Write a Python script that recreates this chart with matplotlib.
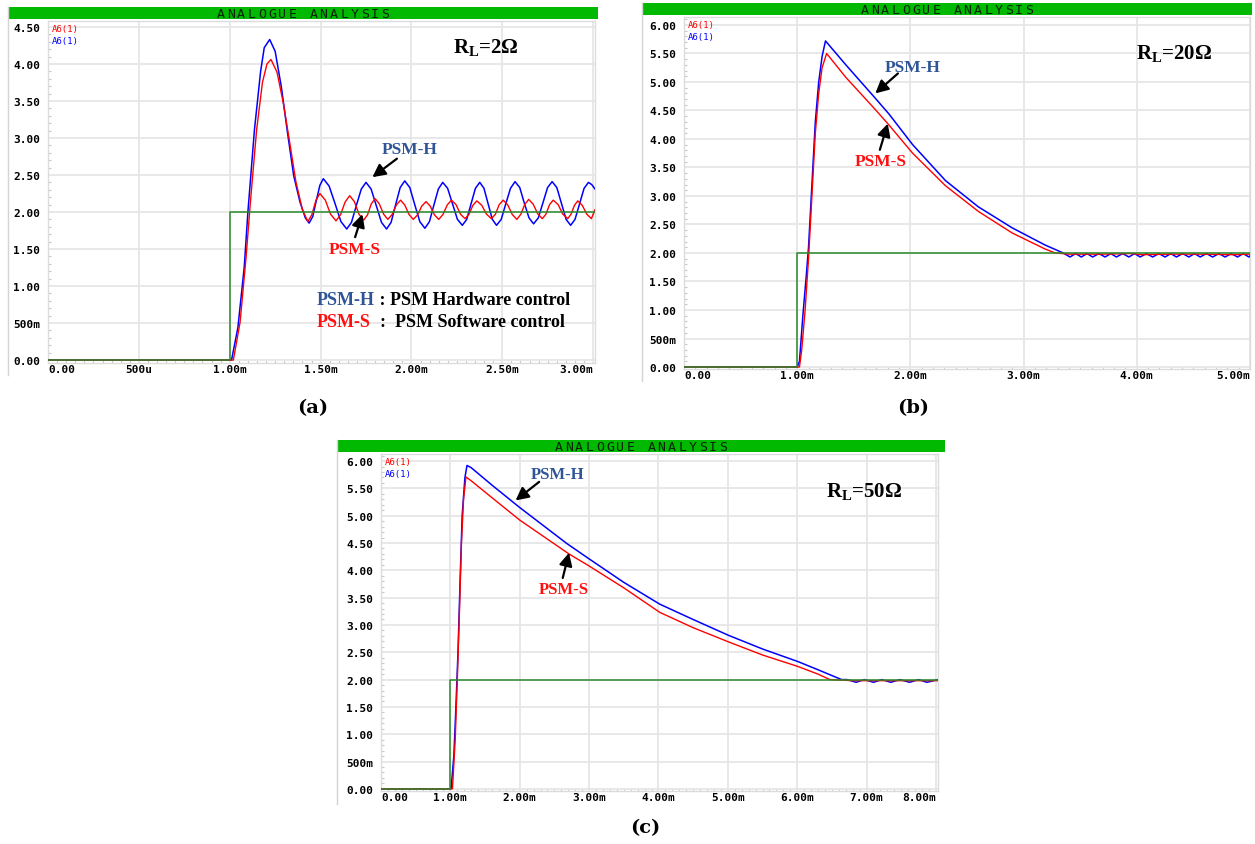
import matplotlib
matplotlib.use('Agg')
import matplotlib.pyplot as plt
from matplotlib.lines import Line2D
from matplotlib.ticker import AutoMinorLocator

plt.rcParams['mathtext.fontset'] = 'custom'
plt.rcParams['mathtext.rm'] = 'Liberation Serif:bold'
plt.rcParams['mathtext.bf'] = 'Liberation Serif:bold'
plt.rcParams['mathtext.it'] = 'Liberation Serif:bold:italic'

W, H = 1255, 845

# ---------------- data: time in ms, voltage in V ----------------
# (a) R_L = 2 ohm
a_t_h = [0.0, 1.0, 1.01, 1.045, 1.08, 1.10, 1.136, 1.17, 1.19, 1.22, 1.25, 1.284, 1.318, 1.352, 1.386, 1.416, 1.437,
         1.457, 1.476, 1.496, 1.515,
         1.547, 1.580, 1.612, 1.644,
         1.670, 1.697, 1.724, 1.750,
         1.778, 1.806, 1.835, 1.863,
         1.888, 1.913, 1.938, 1.963,
         1.991, 2.018, 2.046, 2.074,
         2.099, 2.123, 2.148, 2.172,
         2.199, 2.226, 2.253, 2.280,
         2.304, 2.328, 2.352, 2.376,
         2.399, 2.422, 2.445, 2.468,
         2.494, 2.519, 2.545, 2.570,
         2.596, 2.621, 2.647, 2.672,
         2.698, 2.723, 2.749, 2.774,
         2.800, 2.825, 2.851, 2.876,
         2.900, 2.925, 2.950, 2.974,
         2.992, 3.010]
a_v_h = [0.0, 0.0, 0.0, 0.44, 1.26, 2.0, 3.11, 3.90, 4.22, 4.33, 4.17, 3.69, 3.07, 2.49, 2.14, 1.92, 1.85,
         1.94, 2.15, 2.36, 2.45,
         2.35, 2.11, 1.87, 1.77,
         1.86, 2.09, 2.31, 2.40,
         2.31, 2.09, 1.86, 1.77,
         1.86, 2.10, 2.33, 2.42,
         2.33, 2.10, 1.87, 1.78,
         1.87, 2.09, 2.31, 2.40,
         2.32, 2.11, 1.90, 1.82,
         1.90, 2.11, 2.32, 2.40,
         2.32, 2.11, 1.90, 1.82,
         1.90, 2.11, 2.32, 2.41,
         2.33, 2.12, 1.92, 1.84,
         1.92, 2.12, 2.33, 2.41,
         2.33, 2.12, 1.90, 1.82,
         1.90, 2.11, 2.32, 2.40,
         2.37, 2.31]
a_t_s = [0.0, 1.0, 1.02, 1.057, 1.09, 1.114, 1.148, 1.18, 1.205, 1.227, 1.26, 1.295, 1.33, 1.364, 1.40, 1.43,
         1.452, 1.474, 1.496,
         1.526, 1.555, 1.585,
         1.610, 1.635, 1.660,
         1.686, 1.711, 1.737,
         1.758, 1.779, 1.800,
         1.823, 1.847, 1.870,
         1.893, 1.917, 1.940,
         1.963, 1.987, 2.010,
         2.033, 2.057, 2.080,
         2.103, 2.127, 2.150,
         2.173, 2.197, 2.220,
         2.245, 2.270, 2.295,
         2.317, 2.338, 2.360,
         2.387, 2.413, 2.440,
         2.462, 2.483, 2.505,
         2.530, 2.555, 2.580,
         2.602, 2.623, 2.645,
         2.670, 2.695, 2.720,
         2.740, 2.760, 2.780,
         2.807, 2.833, 2.860,
         2.878, 2.897, 2.915,
         2.940, 2.965, 2.990,
         3.010]
a_v_s = [0.0, 0.0, 0.0, 0.51, 1.39, 2.14, 3.11, 3.75, 4.00, 4.06, 3.89, 3.47, 2.94, 2.41, 2.03, 1.87,
         1.965, 2.155, 2.25,
         2.16, 1.97, 1.88,
         1.965, 2.135, 2.22,
         2.14, 1.97, 1.89,
         1.96, 2.11, 2.18,
         2.11, 1.97, 1.90,
         1.965, 2.095, 2.16,
         2.095, 1.965, 1.90,
         1.96, 2.08, 2.14,
         2.08, 1.96, 1.90,
         1.965, 2.095, 2.16,
         2.10, 1.97, 1.91,
         1.97, 2.09, 2.15,
         2.09, 1.97, 1.91,
         1.97, 2.10, 2.16,
         2.095, 1.965, 1.90,
         1.97, 2.10, 2.17,
         2.105, 1.975, 1.91,
         1.97, 2.10, 2.16,
         2.10, 1.97, 1.91,
         1.97, 2.09, 2.15,
         2.09, 1.97, 1.91,
         2.03]
a_t_ref = [0.0, 1.0, 1.0, 3.01]
a_v_ref = [0.0, 0.0, 2.0, 2.0]
a_xticks = [0.0, 0.5, 1.0, 1.5, 2.0, 2.5, 3.0]
a_xlabels = ['0.00', '500u', '1.00m', '1.50m', '2.00m', '2.50m', '3.00m']
a_yticks = [0.0, 0.5, 1.0, 1.5, 2.0, 2.5, 3.0, 3.5, 4.0, 4.5]
a_ylabels = ['0.00', '500m', '1.00', '1.50', '2.00', '2.50', '3.00', '3.50', '4.00', '4.50']

# (b) R_L = 20 ohm
b_t_h = [0.0, 1.0, 1.02, 1.05, 1.08, 1.10, 1.13, 1.16, 1.19, 1.22, 1.25, 1.43, 1.67, 1.81, 2.02, 2.31, 2.60, 2.90,
         3.19, 3.35,
         3.41, 3.46, 3.51, 3.56, 3.61, 3.665, 3.72, 3.77, 3.82, 3.875, 3.93, 3.98, 4.03, 4.085, 4.14, 4.195,
         4.25, 4.30, 4.35, 4.405, 4.46, 4.51, 4.56, 4.615, 4.67, 4.725, 4.78, 4.835, 4.89, 4.94, 4.99, 5.0]
b_v_h = [0.0, 0.0, 0.1, 0.9, 1.6, 2.1, 3.2, 4.3, 5.0, 5.45, 5.72, 5.30, 4.76, 4.44, 3.90, 3.27, 2.81, 2.44,
         2.14, 2.0,
         1.93, 1.99, 1.93, 1.99, 1.93, 1.99, 1.93, 1.99, 1.93, 1.99, 1.93, 1.99, 1.93, 1.99, 1.93, 1.99,
         1.93, 1.99, 1.93, 1.99, 1.93, 1.99, 1.93, 1.99, 1.93, 1.99, 1.93, 1.99, 1.93, 1.99, 1.93, 1.95]
b_t_s = [0.0, 1.0, 1.02, 1.04, 1.07, 1.10, 1.13, 1.16, 1.19, 1.22, 1.26, 1.43, 1.67, 1.80, 2.02, 2.31, 2.60, 2.90,
         3.19, 3.28, 3.40, 3.70, 3.95, 4.05, 4.30, 4.60, 4.85, 5.0]
b_v_s = [0.0, 0.0, 0.0, 0.3, 1.0, 1.9, 3.0, 4.1, 4.8, 5.25, 5.50, 5.08, 4.56, 4.27, 3.75, 3.18, 2.73, 2.35,
         2.07, 2.0, 1.98, 1.98, 1.99, 1.97, 1.98, 1.98, 1.97, 1.98]
b_t_ref = [0.0, 1.0, 1.0, 5.0]
b_v_ref = [0.0, 0.0, 2.0, 2.0]
b_xticks = [0.0, 1.0, 2.0, 3.0, 4.0, 5.0]
b_xlabels = ['0.00', '1.00m', '2.00m', '3.00m', '4.00m', '5.00m']
b_yticks = [0.0, 0.5, 1.0, 1.5, 2.0, 2.5, 3.0, 3.5, 4.0, 4.5, 5.0, 5.5, 6.0]
b_ylabels = ['0.00', '500m', '1.00', '1.50', '2.00', '2.50', '3.00', '3.50', '4.00', '4.50', '5.00', '5.50', '6.00']

# (c) R_L = 50 ohm
c_t_h = [0.0, 1.0, 1.01, 1.05, 1.08, 1.11, 1.14, 1.17, 1.21, 1.24, 1.30, 1.60, 2.0, 2.68, 3.0, 3.5, 4.02, 4.5,
         5.01, 5.5, 6.01, 6.3, 6.64, 6.72, 6.85, 6.97, 7.10, 7.22, 7.35, 7.48, 7.62, 7.75, 7.87, 8.03]
c_v_h = [0.0, 0.0, 0.0, 0.6, 1.5, 2.5, 3.8, 5.0, 5.7, 5.92, 5.88, 5.56, 5.15, 4.49, 4.21, 3.78, 3.38, 3.10,
         2.81, 2.56, 2.33, 2.18, 2.0, 2.0, 1.95, 2.0, 1.95, 2.0, 1.95, 2.0, 1.95, 2.0, 1.95, 2.0]
c_t_s = [0.0, 1.0, 1.03, 1.07, 1.10, 1.13, 1.16, 1.19, 1.225, 1.30, 1.60, 2.0, 2.71, 3.0, 3.5, 4.02, 4.5,
         5.01, 5.5, 6.01, 6.3, 6.47, 6.8, 7.3, 7.8, 8.03]
c_v_s = [0.0, 0.0, 0.0, 0.9, 2.0, 3.2, 4.5, 5.3, 5.71, 5.64, 5.33, 4.92, 4.30, 4.08, 3.68, 3.23, 2.95,
         2.69, 2.45, 2.24, 2.10, 2.0, 1.98, 1.98, 1.98, 1.98]
c_t_ref = [0.0, 1.0, 1.0, 8.03]
c_v_ref = [0.0, 0.0, 2.0, 2.0]
c_xticks = [0.0, 1.0, 2.0, 3.0, 4.0, 5.0, 6.0, 7.0, 8.0]
c_xlabels = ['0.00', '1.00m', '2.00m', '3.00m', '4.00m', '5.00m', '6.00m', '7.00m', '8.00m']
c_yticks = b_yticks
c_ylabels = b_ylabels

BLUE_TXT = '#2f5597'
RED_TXT = '#ff1010'
SERIF = 'Liberation Serif'
MONO = 'DejaVu Sans Mono'

fig = plt.figure(figsize=(W / 100, H / 100), dpi=100)


def box(l, t, r, b):
    return [l / W, 1 - b / H, (r - l) / W, (b - t) / H]


def draw_bar(l, t, r, b, bottom):
    bar = fig.add_axes(box(l, t, r, b))
    bar.set_facecolor('#00b900')
    bar.set_xticks([])
    bar.set_yticks([])
    for s in bar.spines.values():
        s.set_visible(False)
    title = 'ANALOGUE ANALYSIS'
    step = 10.3 / (r - l)
    x0 = 0.5 - step * (len(title) - 1) / 2
    for i, ch in enumerate(title):
        bar.text(x0 + i * step, 0.45, ch, ha='center', va='center', fontsize=9.5,
                 family=MONO, color='#062406')
    # thin frame line on the left of the panel
    fig.add_artist(Line2D([l / W, l / W], [1 - t / H, 1 - bottom / H], color='#d4d4d4', lw=1))


def draw_plot(pos, xlim, ylim, t_h, v_h, t_s, v_s, t_ref, v_ref, xticks, xlabels, yticks, ylabels):
    ax = fig.add_axes(box(*pos))
    ax.plot(t_h, v_h, color='#0000ff', lw=1.1, zorder=3)
    ax.plot(t_s, v_s, color='#ff0000', lw=1.0, zorder=4)
    ax.plot(t_ref, v_ref, color='#2a8a2a', lw=1.1, zorder=5)
    ax.set_xlim(*xlim)
    ax.set_ylim(*ylim)
    ax.set_xticks(xticks, xlabels)
    ax.set_yticks(yticks, ylabels)
    ax.xaxis.set_minor_locator(AutoMinorLocator(10))
    ax.yaxis.set_minor_locator(AutoMinorLocator(5))
    ax.grid(True, which='major', color='#e6e6e6', lw=1.3)
    ax.set_axisbelow(True)
    ax.tick_params(which='major', length=0, labelsize=8)
    ax.tick_params(axis='y', which='major', pad=5.5)
    ax.tick_params(axis='x', which='major', pad=0.5)
    ax.tick_params(which='minor', direction='in', length=2.5, width=0.8, color='#c8c8c8')
    for lab in ax.get_xticklabels() + ax.get_yticklabels():
        lab.set_family(MONO)
        lab.set_weight('bold')
    xl = ax.get_xticklabels()
    xl[0].set_ha('left')
    xl[-1].set_ha('right')
    for s in ax.spines.values():
        s.set_color('#dcdcdc')
        s.set_linewidth(1.0)
    ax.annotate('A6(1)', xy=(0, 1), xycoords='axes fraction', xytext=(3, -2), textcoords='offset points',
                va='top', ha='left', fontsize=6.5, family=MONO, color='#ff0000')
    ax.annotate('A6(1)', xy=(0, 1), xycoords='axes fraction', xytext=(3, -11), textcoords='offset points',
                va='top', ha='left', fontsize=6.5, family=MONO, color='#0000ff')
    return ax


def arrow(ax, tail, head):
    ax.annotate('', xy=head, xytext=tail,
                arrowprops=dict(arrowstyle='-|>,head_length=0.55,head_width=0.28', color='black',
                                lw=1.6, shrinkA=0, shrinkB=0, mutation_scale=14), zorder=6)


def label(ax, x, y, text, color, size=12.5):
    ax.text(x, y, text, color=color, fontsize=size, family=SERIF, weight='bold',
            ha='center', va='center', zorder=6)


# ---------------- panel (a) ----------------
draw_bar(8, 8, 598, 20, 376)
ax_a = draw_plot((48, 22, 595, 364), (0, 3.01), (-0.04, 4.58), a_t_h, a_v_h, a_t_s, a_v_s,
                 a_t_ref, a_v_ref, a_xticks, a_xlabels, a_yticks, a_ylabels)
ax_a.text(2.23, 4.24, r'R$_{\mathbf{L}}$=2Ω', fontsize=15, family=SERIF, weight='bold', va='center', ha='left')
label(ax_a, 1.99, 2.85, 'PSM-H', BLUE_TXT)
arrow(ax_a, (1.92, 2.72), (1.785, 2.47))
label(ax_a, 1.69, 1.50, 'PSM-S', RED_TXT)
arrow(ax_a, (1.69, 1.66), (1.73, 1.97))
t1 = ax_a.text(1.48, 0.76, 'PSM-H', color=BLUE_TXT, fontsize=13, family=SERIF, weight='bold', va='baseline')
ax_a.annotate(' : PSM Hardware control', xy=(1, 0), xycoords=t1, va='bottom', ha='left',
              fontsize=13, family=SERIF, weight='bold', color='black')
t2 = ax_a.text(1.48, 0.46, 'PSM-S', color=RED_TXT, fontsize=13, family=SERIF, weight='bold', va='baseline')
ax_a.annotate('  :  PSM Software control', xy=(1, 0), xycoords=t2, va='bottom', ha='left',
              fontsize=13, family=SERIF, weight='bold', color='black')

# ---------------- panel (b) ----------------
draw_bar(642, 4, 1252, 16, 382)
ax_b = draw_plot((684, 18, 1250, 370), (0, 5.0), (-0.035, 6.14), b_t_h, b_v_h, b_t_s, b_v_s,
                 b_t_ref, b_v_ref, b_xticks, b_xlabels, b_yticks, b_ylabels)
ax_b.text(3.99, 5.52, r'R$_{\mathbf{L}}$=20Ω', fontsize=15, family=SERIF, weight='bold', va='center', ha='left')
label(ax_b, 2.02, 5.27, 'PSM-H', BLUE_TXT)
arrow(ax_b, (1.89, 5.15), (1.69, 4.80))
label(ax_b, 1.74, 3.61, 'PSM-S', RED_TXT)
arrow(ax_b, (1.73, 3.81), (1.80, 4.27))

# ---------------- panel (c) ----------------
draw_bar(337, 441, 945, 453, 805)
ax_c = draw_plot((381, 455, 938, 792), (0, 8.03), (-0.04, 6.13), c_t_h, c_v_h, c_t_s, c_v_s,
                 c_t_ref, c_v_ref, c_xticks, c_xlabels, c_yticks, c_ylabels)
ax_c.text(6.41, 5.47, r'R$_{\mathbf{L}}$=50Ω', fontsize=15, family=SERIF, weight='bold', va='center', ha='left')
label(ax_c, 2.54, 5.77, 'PSM-H', BLUE_TXT, 12)
arrow(ax_c, (2.28, 5.62), (1.94, 5.28))
label(ax_c, 2.63, 3.65, 'PSM-S', RED_TXT, 12)
arrow(ax_c, (2.62, 3.86), (2.71, 4.32))

# panel captions
for cx, cy, cap in [(313, 408, '(a)'), (913, 408, '(b)'), (645, 828, '(c)')]:
    fig.text(cx / W, 1 - cy / H, cap, ha='center', va='center', fontsize=14,
             family='DejaVu Serif', weight='bold')

fig.savefig('out.png', dpi=100)
